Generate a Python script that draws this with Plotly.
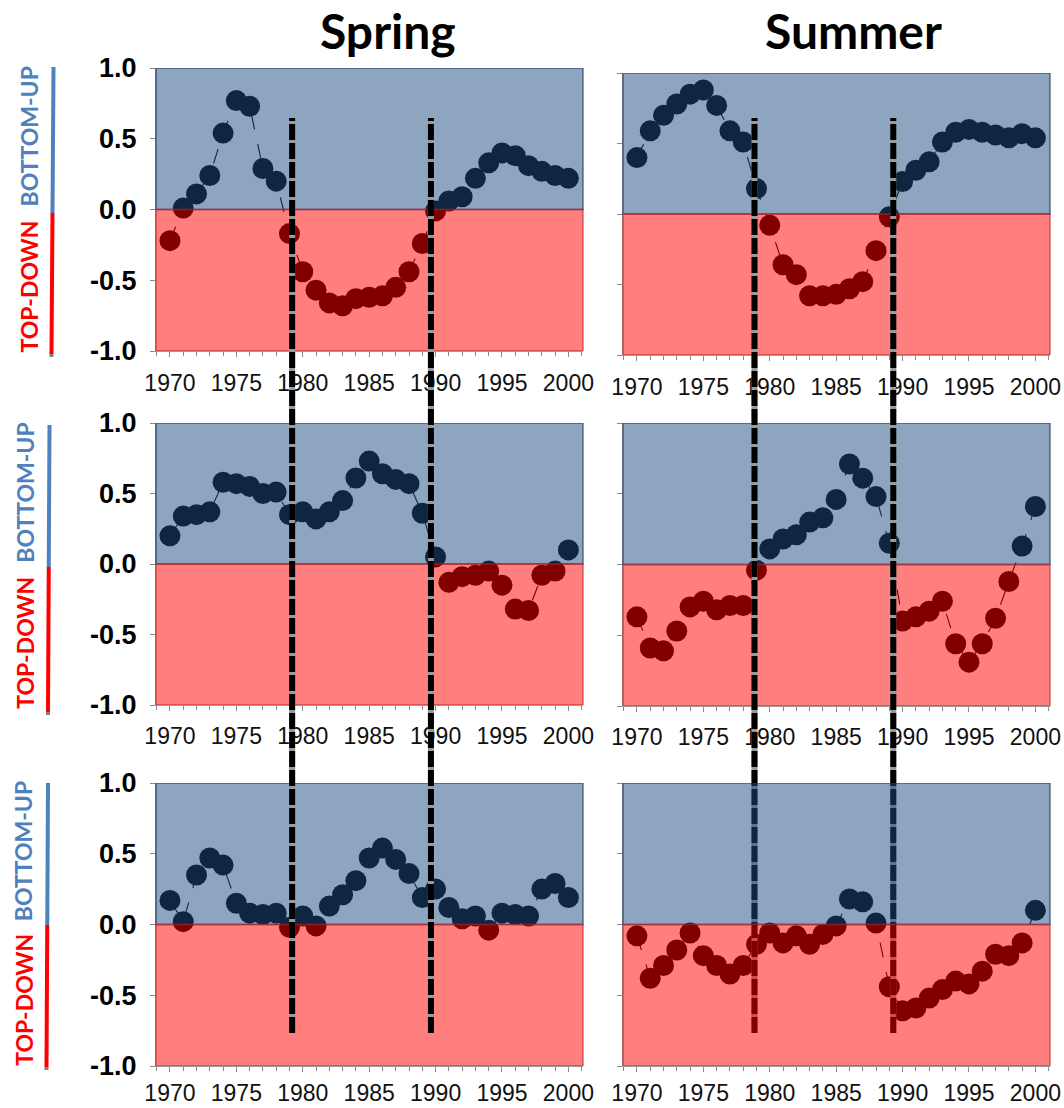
import plotly.graph_objects as go

# ---------------- data ----------------
years = list(range(1970, 2001))

spring_row1 = [-0.22, 0.01, 0.11, 0.24, 0.54, 0.77, 0.73, 0.29, 0.20, -0.17,
               -0.44, -0.57, -0.66, -0.68, -0.63, -0.62, -0.61, -0.55, -0.44, -0.24,
               -0.01, 0.06, 0.09, 0.22, 0.33, 0.40, 0.38, 0.31, 0.27, 0.24, 0.22]
summer_row1 = [0.40, 0.59, 0.70, 0.78, 0.85, 0.88, 0.77, 0.59, 0.51, 0.18,
               -0.08, -0.36, -0.43, -0.58, -0.58, -0.57, -0.53, -0.48, -0.26, -0.02,
               0.23, 0.31, 0.37, 0.51, 0.58, 0.60, 0.58, 0.56, 0.54, 0.57, 0.54]
spring_row2 = [0.20, 0.34, 0.35, 0.37, 0.58, 0.57, 0.55, 0.50, 0.51, 0.35,
               0.37, 0.32, 0.37, 0.45, 0.61, 0.73, 0.64, 0.60, 0.57, 0.36,
               0.05, -0.13, -0.09, -0.08, -0.05, -0.15, -0.32, -0.33, -0.08, -0.05, 0.10]
summer_row2 = [-0.37, -0.59, -0.61, -0.47, -0.30, -0.26, -0.32, -0.29, -0.29, -0.04,
               0.11, 0.18, 0.21, 0.30, 0.33, 0.46, 0.71, 0.61, 0.48, 0.15,
               -0.40, -0.37, -0.33, -0.26, -0.56, -0.69, -0.56, -0.38, -0.12, 0.13, 0.41]
spring_row3 = [0.17, 0.02, 0.35, 0.47, 0.42, 0.15, 0.08, 0.07, 0.08, -0.02,
               0.06, -0.01, 0.13, 0.21, 0.31, 0.47, 0.54, 0.46, 0.36, 0.19,
               0.25, 0.12, 0.04, 0.06, -0.04, 0.08, 0.07, 0.06, 0.25, 0.29, 0.19]
summer_row3 = [-0.08, -0.38, -0.29, -0.18, -0.06, -0.22, -0.29, -0.35, -0.29, -0.14,
               -0.06, -0.13, -0.08, -0.14, -0.07, -0.01, 0.18, 0.16, 0.01, -0.44,
               -0.61, -0.59, -0.52, -0.46, -0.40, -0.42, -0.33, -0.21, -0.22, -0.13, 0.10]

column_titles = ["Spring", "Summer"]
x_tick_vals = [1970, 1975, 1980, 1985, 1990, 1995, 2000]
x_tick_text = ["1970", "1975", "1980", "1985", "1990", "1995", "2000"]
y_tick_vals = [-1.0, -0.5, 0.0, 0.5, 1.0]
y_tick_text = ["-1.0", "-0.5", "0.0", "0.5", "1.0"]

# regime-shift markers (years) per column
shift_years_spring = [1979.2, 1989.65]
shift_years_summer = [1978.85, 1989.3]

# ---------------- layout geometry ----------------
W, H = 1064, 1108


def py(pix):
    return 1 - pix / H


x_domains = {"L": [156 / W, 583 / W], "R": [623 / W, 1050 / W]}
y_domains = {
    (1, "L"): [py(351), py(68)], (1, "R"): [py(355), py(73)],
    (2, "L"): [py(705), py(423)], (2, "R"): [py(706), py(423)],
    (3, "L"): [py(1066), py(783)], (3, "R"): [py(1066), py(783)],
}
x_label_standoff = {1: 6, 2: 5, 3: 1}

panels = [
    (1, "L", spring_row1), (1, "R", summer_row1),
    (2, "L", spring_row2), (2, "R", summer_row2),
    (3, "L", spring_row3), (3, "R", summer_row3),
]

fig = go.Figure()
layout_axes = {}


def ax_name(i, kind):
    return kind if i == 1 else f"{kind}{i}"


overlay_shapes = {}
for i, (row, col, vals) in enumerate(panels, start=1):
    xa, ya = ax_name(i, "x"), ax_name(i, "y")
    fig.add_trace(go.Scatter(
        x=years, y=vals, xaxis=xa, yaxis=ya, mode="lines+markers",
        marker=dict(color="#000000", size=21),
        line=dict(color="#000000", width=1.1, dash="longdash"),
        hoverinfo="skip", showlegend=False))

    xkey = "xaxis" if i == 1 else f"xaxis{i}"
    ykey = "yaxis" if i == 1 else f"yaxis{i}"
    layout_axes[xkey] = dict(
        domain=x_domains[col], anchor=ya, range=[1968.95, 2001.1],
        automargin=False,
        tickmode="array", tickvals=x_tick_vals, ticktext=x_tick_text,
        ticks="outside", ticklen=5, tickcolor="#8a8a8a", tickwidth=1,
        minor=dict(tickmode="linear", tick0=1970, dtick=1, ticks="outside",
                   ticklen=4, tickcolor="#8a8a8a"),
        showgrid=False, zeroline=False, showline=True, linecolor="#9a9a9a",
        tickfont=dict(family="Liberation Sans, Arial", size=23, color="#111111"),
        ticklabelstandoff=x_label_standoff[row], fixedrange=True)
    layout_axes[ykey] = dict(
        domain=y_domains[(row, col)], anchor=xa, range=[-1, 1],
        automargin=False,
        tickmode="array", tickvals=y_tick_vals,
        ticktext=y_tick_text if col == "L" else ["", "", "", "", ""],
        ticks="outside", ticklen=5, tickcolor="#8a8a8a",
        showgrid=False, zeroline=False, showline=True, linecolor="#9a9a9a",
        tickfont=dict(family="Liberation Sans, Arial", size=27, color="#000000",
                      weight="bold"),
        ticklabelstandoff=8, fixedrange=True)

    xd = f"{xa} domain"
    overlay_shapes[i] = [
        dict(type="rect", xref=xd, yref=ya, x0=0, x1=1, y0=0, y1=1,
             fillcolor="rgba(29,75,129,0.5)",
             line=dict(color="rgba(25,50,90,0.65)", width=1.5), layer="above"),
        dict(type="rect", xref=xd, yref=ya, x0=0, x1=1, y0=-1, y1=0,
             fillcolor="rgba(255,0,0,0.5)",
             line=dict(color="rgba(185,30,30,0.6)", width=1.5), layer="above"),
    ]


def dashed_line(xref, xv):
    y0, y1 = py(1033), py(118)
    return [
        dict(type="line", xref=xref, yref="paper", x0=xv, x1=xv, y0=y0, y1=y1,
             line=dict(color="#9a9a9a", width=6), layer="above"),
        dict(type="line", xref=xref, yref="paper", x0=xv, x1=xv, y0=y0, y1=y1,
             line=dict(color="#000000", width=6, dash="16px,3px"), layer="above"),
    ]


shapes = []
for i in [1, 2, 3, 4, 5]:
    shapes += overlay_shapes[i]
for xv in shift_years_summer:
    shapes += dashed_line("x2", xv)
shapes += overlay_shapes[6]
for xv in shift_years_spring:
    shapes += dashed_line("x", xv)

# side colour bars (BOTTOM-UP / TOP-DOWN)
bar_rows = [  # (x_top, x_bottom, y_top, y_mid, y_bottom)
    (53.5, 51.5, 67, 213, 357),
    (49.5, 48.0, 425, 567, 715),
    (48.0, 46.5, 783, 925, 1070),
]
annotations = []
for (xt, xb, yt, ym, yb) in bar_rows:
    xm = (xt + xb) / 2
    shapes.append(dict(type="line", xref="paper", yref="paper",
                       x0=xt / W, x1=xm / W, y0=py(yt), y1=py(ym),
                       line=dict(color="#4F81BD", width=4), layer="above"))
    shapes.append(dict(type="line", xref="paper", yref="paper",
                       x0=xm / W, x1=xb / W, y0=py(ym), y1=py(yb - 3),
                       line=dict(color="#FF0000", width=4), layer="above"))
    shapes.append(dict(type="line", xref="paper", yref="paper",
                       x0=xb / W, x1=xb / W, y0=py(yb - 3), y1=py(yb),
                       line=dict(color="#808080", width=4), layer="above"))
    annotations.append(dict(text="BOTTOM-UP", xref="paper", yref="paper",
                            x=(xm - 24) / W, y=py((yt + ym) / 2 - 3), showarrow=False,
                            textangle=-90, xanchor="center", yanchor="middle",
                            font=dict(family="Lato, Open Sans", size=23,
                                      color="#4F81BD", weight="bold")))
    annotations.append(dict(text="TOP-DOWN", xref="paper", yref="paper",
                            x=(xm - 24) / W, y=py((ym + yb) / 2 + 2), showarrow=False,
                            textangle=-90, xanchor="center", yanchor="middle",
                            font=dict(family="Lato, Open Sans", size=23,
                                      color="#FF0000", weight="bold")))

for title, cx in zip(column_titles, [388, 853]):
    annotations.append(dict(text=title, xref="paper", yref="paper",
                            x=cx / W, y=py(30), showarrow=False,
                            xanchor="center", yanchor="middle",
                            font=dict(family="Lato, Open Sans", size=48,
                                      color="#000000", weight="bold")))

fig.update_layout(
    width=W, height=H, margin=dict(l=0, r=0, t=0, b=0),
    paper_bgcolor="#ffffff", plot_bgcolor="#ffffff",
    showlegend=False, shapes=shapes, annotations=annotations,
    **layout_axes)

fig.write_html("out.html")
